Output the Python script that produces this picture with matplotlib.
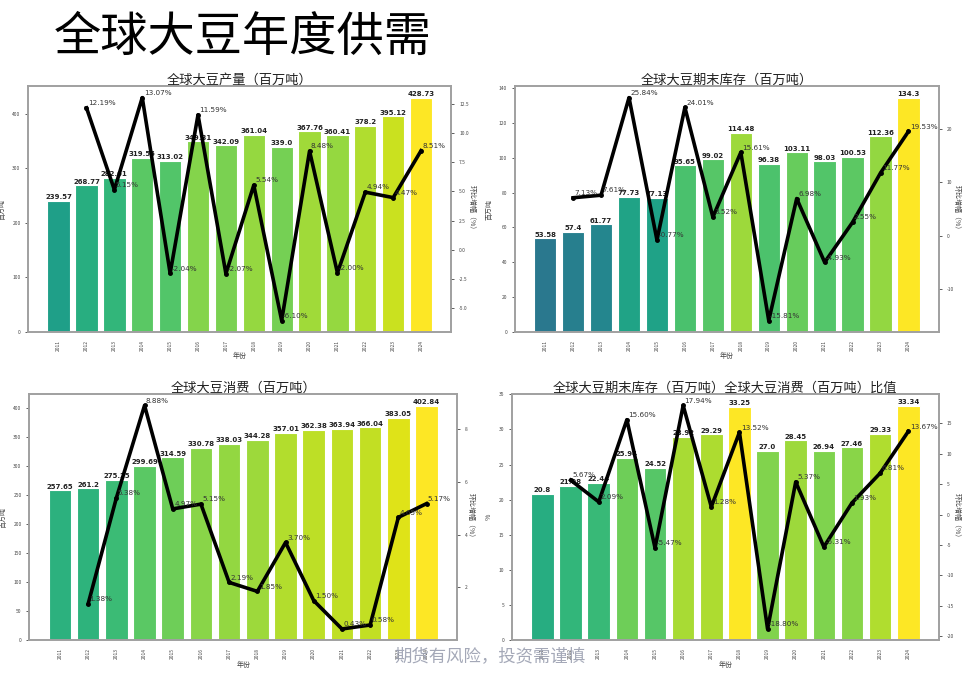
import matplotlib
matplotlib.use('Agg')
import matplotlib.pyplot as plt
import numpy as np

plt.rcParams['font.family'] = ['Noto Sans CJK SC', 'DejaVu Sans']
plt.rcParams['axes.unicode_minus'] = False

years = ['2011', '2012', '2013', '2014', '2015', '2016', '2017',
         '2018', '2019', '2020', '2021', '2022', '2023', '2024']

# 产量、期末库存、消费、库存消费比
production = [239.57, 268.77, 282.61, 319.55, 313.02, 349.31, 342.09,
              361.04, 339.0, 367.76, 360.41, 378.2, 395.12, 428.73]
production_pct = [None, 12.19, 5.15, 13.07, -2.04, 11.59, -2.07,
                  5.54, -6.10, 8.48, -2.00, 4.94, 4.47, 8.51]

stocks = [53.58, 57.4, 61.77, 77.73, 77.13, 95.65, 99.02,
          114.48, 96.38, 103.11, 98.03, 100.53, 112.36, 134.3]
stocks_pct = [None, 7.13, 7.61, 25.84, -0.77, 24.01, 3.52,
              15.61, -15.81, 6.98, -4.93, 2.55, 11.77, 19.53]

consumption = [257.65, 261.2, 275.25, 299.69, 314.59, 330.78, 338.03,
               344.28, 357.01, 362.38, 363.94, 366.04, 383.05, 402.84]
consumption_pct = [None, 1.38, 5.38, 8.88, 4.97, 5.15, 2.19,
                   1.85, 3.70, 1.50, 0.43, 0.58, 4.65, 5.17]

ratio = [20.8, 21.98, 22.44, 25.94, 24.52, 28.92, 29.29,
         33.25, 27.0, 28.45, 26.94, 27.46, 29.33, 33.34]
ratio_pct = [None, 5.67, 2.09, 15.60, -5.47, 17.94, 1.28,
             13.52, -18.80, 5.37, -5.31, 1.93, 6.81, 13.67]

panels = [
    ('全球大豆产量（百万吨）', production, production_pct, '百万吨', [0.029, 0.513, 0.435, 0.360]),
    ('全球大豆期末库存（百万吨）', stocks, stocks_pct, '百万吨', [0.529, 0.513, 0.436, 0.360]),
    ('全球大豆消费（百万吨）', consumption, consumption_pct, '百万吨', [0.030, 0.060, 0.440, 0.361]),
    ('全球大豆期末库存（百万吨）全球大豆消费（百万吨）比值', ratio, ratio_pct, '%', [0.526, 0.060, 0.439, 0.361]),
]

fig = plt.figure(figsize=(9.73, 6.81), dpi=100)
fig.text(0.055, 0.945, '全球大豆年度供需', fontsize=34, ha='left', va='center')

spine_color = '#a0a0a0'
x = np.arange(len(years))

for title, vals, pct, ylab, rect in panels:
    ax = fig.add_axes(rect)
    cmap = plt.get_cmap('viridis')
    vmax = max(vals)
    colors = [cmap(v / vmax) for v in vals]
    bars = ax.bar(x, vals, width=0.8, color=colors, edgecolor='white', linewidth=0.8)
    ax.bar_label(bars, labels=[str(v) for v in vals], fontsize=5, fontweight='bold',
                 color='#222222', padding=0.5, family='DejaVu Sans')
    ax.set_xticks(x)
    ax.set_xticklabels(years, rotation=90, fontsize=3.5, color='#444444')
    ax.tick_params(axis='y', labelsize=3.5, colors='#444444', length=2, width=0.6)
    ax.tick_params(axis='x', length=0, pad=6)
    ax.set_xlabel('年份', fontsize=5, color='#444444', labelpad=1)
    ax.set_ylabel(ylab, fontsize=5, color='#444444', labelpad=4)
    ax.set_title(title, fontsize=9.5, color='#222222', pad=1)

    ax2 = ax.twinx()
    px = [i for i, p in enumerate(pct) if p is not None]
    py = [p for p in pct if p is not None]
    ax2.plot(px, py, color='black', linewidth=2.6, marker='o', markersize=2.5)
    for xi, yi in zip(px, py):
        ax2.annotate(f'{yi:.2f}%', (xi, yi), xytext=(1, 2), textcoords='offset points',
                     fontsize=5.2, color='#333333', family='DejaVu Sans')
    ax2.tick_params(axis='y', labelsize=3.5, colors='#444444', length=2, width=0.6)
    ax2.set_ylabel('环比增幅（%）', fontsize=5, color='#444444', rotation=270, labelpad=5)

    for a in (ax, ax2):
        for s in a.spines.values():
            s.set_color(spine_color)
            s.set_linewidth(1.2)

fig.text(0.503, 0.037, '期货有风险，投资需谨慎', fontsize=12.5, color='#9a9fb0',
         ha='center', va='center', alpha=0.9)

fig.savefig('out.png', dpi=100)
